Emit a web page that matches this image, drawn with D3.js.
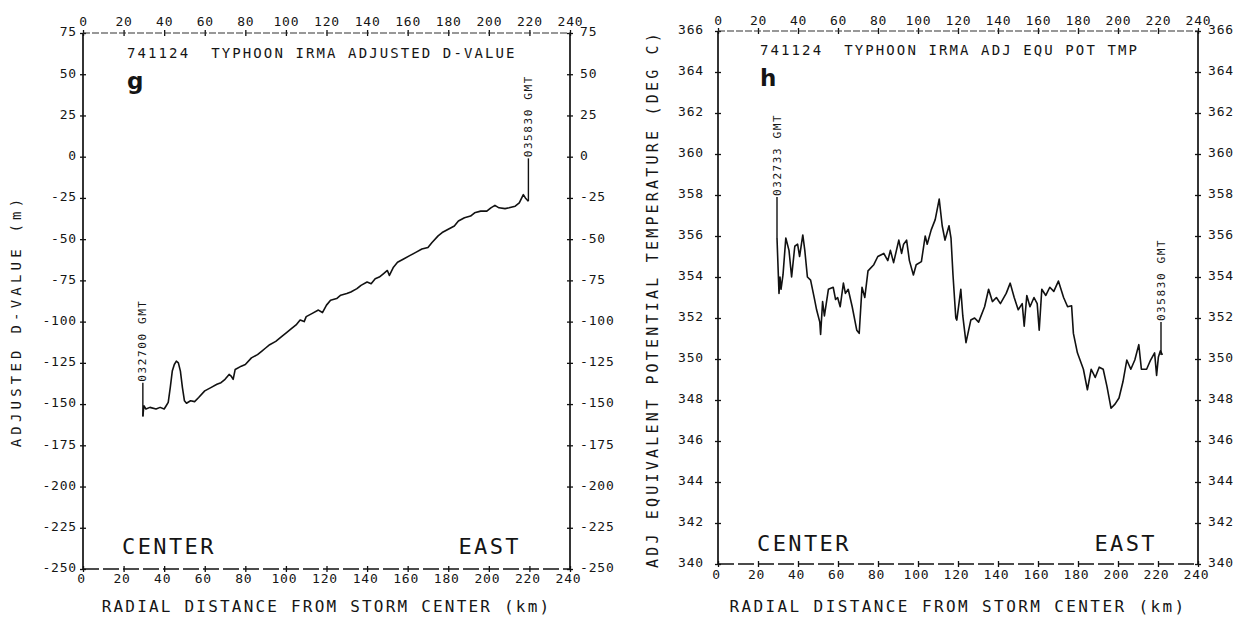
<!DOCTYPE html>
<html><head><meta charset="utf-8">
<script src="https://cdn.jsdelivr.net/npm/d3@7"></script>
<style>
body{margin:0;background:#fff;}
svg{display:block;background:#fff;}
text{font-family:"DejaVu Sans Mono",monospace;fill:#151515;}
</style></head><body>
<svg id="c" width="1233" height="617"></svg>
<script>
// ---------- data ----------
const xTicks = [0,20,40,60,80,100,120,140,160,180,200,220,240];
const dTicks = [75,50,25,0,-25,-50,-75,-100,-125,-150,-175,-200,-225,-250];
const tTicks = [366,364,362,360,358,356,354,352,350,348,346,344,342,340];

// Panel g: adjusted D-value (m) vs radial distance (km)
const dKm  = [29.5,30,31,33,36,38,40,41,42,43,44,45,46,47,48,49,50,51,53,55,57,60,63,66,68,70,72,73,74,75,78,80,83,86,88,90,92,95,98,100,103,105,107,109,110,113,116,118,120,122,125,127,130,132,135,137,140,142,144,146,148,150,151,153,155,158,161,164,167,170,172,175,177,180,183,185,188,191,193,196,199,201,203,205,208,210,213,215,217,218,219.5];
const dVal = [-157.5,-151,-153,-152,-153,-152,-153,-151,-149,-140,-130,-126,-124,-125,-130,-140,-148,-149.5,-148,-148.5,-146,-142,-140,-138,-137,-135,-132,-133,-135,-129,-127,-126,-122,-120,-118,-116,-114,-112,-109,-107,-104,-102,-99,-100,-97,-95,-93,-94.5,-90,-87,-86,-84,-83,-82,-80,-78,-76,-77,-74,-73,-71,-69,-72,-67,-64,-62,-60,-58,-56,-55,-52,-48,-46,-44,-42,-39,-37,-36,-34,-33,-33,-31,-29.5,-31,-31.5,-31,-30,-28,-23,-25,-27];

// Panel h: adjusted equivalent potential temperature vs radial distance (km)
const tKm  = [29.5,30.5,31,31.5,32.5,33.9,35.5,36.8,38.4,39.8,40.8,42.4,43.4,44.7,46.3,48.3,49.3,50.9,51.3,52.3,53.2,55.2,57.6,58.8,59.8,61.1,62.7,63.7,65.1,67.1,69.4,70.6,72,73.4,75,77.9,79.9,82.9,84.9,86.2,87.8,90.4,91.8,92.8,94.3,95.7,97.7,99.1,101.7,103.6,104.6,106.6,108.6,110.6,112.1,113.5,115.5,116.5,117.5,118.9,119.4,121.4,122.4,124,126.4,128.3,130.3,133.3,135.3,137.2,139.2,141.2,144.1,146.1,148.1,150.1,152.1,153.1,154.4,156,158,159.6,160.6,161.9,163.9,165.9,167.9,170.2,172.8,174.8,176.8,177.7,179.7,182.7,184.7,186.6,188.6,190.6,192.6,194.5,196.5,198.5,200.5,202.5,204.4,206.4,208.4,210.4,211.7,214.3,216.3,218.3,219.3,220.2,221.2,222.2];
const tVal = [355.9,353.2,354.0,353.4,354.1,355.9,355.3,354.0,355.5,355.6,355.0,356.05,355.3,354.0,353.85,352.9,352.4,351.8,351.2,352.8,352.1,353.4,353.5,352.9,353.0,352.55,353.7,353.2,353.4,352.55,351.4,351.25,353.5,353.0,354.3,354.6,355.0,355.15,354.8,355.3,354.7,355.8,355.15,355.6,355.8,354.8,354.1,354.6,354.75,356.0,355.6,356.3,356.8,357.8,356.5,355.8,356.5,355.9,354.1,352.0,351.9,353.4,352.1,350.8,351.9,352.0,351.8,352.55,353.4,352.8,353.0,352.7,353.2,353.7,353.0,352.4,352.7,351.6,353.1,352.55,353.0,352.7,351.4,353.4,353.1,353.5,353.3,353.8,353.0,352.55,352.6,351.25,350.3,349.5,348.5,349.5,349.1,349.6,349.5,348.65,347.6,347.8,348.1,348.9,349.95,349.5,349.95,350.7,349.5,349.5,349.95,350.3,349.2,350.1,350.4,350.2];

// time stamps at the start and end of each leg: [text, km, value at trace, value where the label starts]
const dMarks = [["032700 GMT",29.5,-157.5,-137],["035830 GMT",219.5,-27,-1]];
const tMarks = [["032733 GMT",29.5,355.9,357.9],["035830 GMT",221.5,350.2,351.8]];

const titles = ["741124  TYPHOON IRMA ADJUSTED D-VALUE","741124  TYPHOON IRMA ADJ EQU POT TMP"];
const yTitles = ["ADJUSTED D-VALUE (m)","ADJ EQUIVALENT POTENTIAL TEMPERATURE (DEG C)"];
const xTitle = "RADIAL DISTANCE FROM STORM CENTER (km)";
const letters = ["g","h"];

// ---------- drawing ----------
const svg = d3.select("#c");

function panel(o){
  const g = svg.append("g");
  const x = d3.scaleLinear().domain([0,240]).range([o.x0,o.x1]);
  const y = d3.scaleLinear().domain(o.yDom).range([o.y0,o.y1]);
  const fmt = d => String(d);
  const tickFont = sel => sel.selectAll("text").style("font-size","13px").style("letter-spacing","0.8px").attr("fill","#151515");

  // axes (labels + outward ticks)
  const aL = g.append("g").attr("transform",`translate(${o.x0},0)`)
    .call(d3.axisLeft(y).tickValues(o.yTicks).tickFormat(fmt).tickSize(3).tickPadding(o.padL));
  const aR = g.append("g").attr("transform",`translate(${o.x1},0)`)
    .call(d3.axisRight(y).tickValues(o.yTicks).tickFormat(fmt).tickSize(3).tickPadding(o.padR));
  const aT = g.append("g").attr("transform",`translate(0,${o.y0})`)
    .call(d3.axisTop(x).tickValues(xTicks).tickSize(3).tickPadding(o.padT));
  const aB = g.append("g").attr("transform",`translate(0,${o.y1})`)
    .call(d3.axisBottom(x).tickValues(xTicks).tickSize(3).tickPadding(o.padB));
  // inward tick halves
  g.append("g").attr("transform",`translate(${o.x0},0)`).call(d3.axisRight(y).tickValues(o.yTicks).tickFormat("").tickSize(3));
  g.append("g").attr("transform",`translate(${o.x1},0)`).call(d3.axisLeft(y).tickValues(o.yTicks).tickFormat("").tickSize(3));
  g.append("g").attr("transform",`translate(0,${o.y0})`).call(d3.axisBottom(x).tickValues(xTicks).tickFormat("").tickSize(3));
  g.append("g").attr("transform",`translate(0,${o.y1})`).call(d3.axisTop(x).tickValues(xTicks).tickFormat("").tickSize(3));
  g.selectAll(".domain").remove();
  g.selectAll(".tick line").attr("stroke","#111").attr("stroke-width",1.3);
  [aL,aR,aT,aB].forEach(tickFont);
  aB.selectAll("text").attr("dx","-2");
  aL.selectAll("text").attr("dy","0.22em");
  aR.selectAll("text").attr("dy","0.22em");

  // frame
  g.append("line").attr("x1",o.x0).attr("x2",o.x0).attr("y1",o.y0).attr("y2",o.y1).attr("stroke","#111").attr("stroke-width",1.7);
  g.append("line").attr("x1",o.x1).attr("x2",o.x1).attr("y1",o.y0).attr("y2",o.y1).attr("stroke","#111").attr("stroke-width",1.7);
  g.append("line").attr("x1",o.x0).attr("x2",o.x1).attr("y1",o.y0).attr("y2",o.y0).attr("stroke","#333").attr("stroke-width",1.1).attr("stroke-dasharray","7,2");
  g.append("line").attr("x1",o.x0).attr("x2",o.x1).attr("y1",o.y1).attr("y2",o.y1).attr("stroke","#111").attr("stroke-width",1.6).attr("stroke-dasharray","16,4");

  // trace
  const pts = o.km.map((k,i)=>[k,o.val[i]]);
  g.append("path").datum(pts)
    .attr("d",d3.line().x(d=>x(d[0])).y(d=>y(d[1])))
    .attr("fill","none").attr("stroke","#111").attr("stroke-width",1.6).attr("stroke-linejoin","round");

  // time stamp markers
  o.marks.forEach(m=>{
    g.append("line").attr("x1",x(m[1])).attr("x2",x(m[1])).attr("y1",y(m[2])).attr("y2",y(m[3]))
      .attr("stroke","#111").attr("stroke-width",1.4);
    g.append("text").attr("transform",`translate(${x(m[1])},${y(m[3])-1}) rotate(-90)`)
      .attr("dominant-baseline","central").style("font-size","11px").style("letter-spacing","1.6px")
      .style("white-space","pre").text(m[0]);
  });

  // title
  g.append("text").attr("x",o.titleX).attr("y",o.titleY).style("font-size","14px").style("letter-spacing","2.1px")
    .style("white-space","pre").attr("xml:space","preserve").text(o.title);
  // panel letter
  g.append("text").attr("x",o.titleX).attr("y",o.titleY+31).style("font-family","'DejaVu Sans',sans-serif")
    .style("font-weight","bold").style("font-size","23px").attr("fill","#000").text(o.letter);
  // CENTER / EAST
  g.append("text").attr("x",o.cX).attr("y",o.ceY).style("font-size","22px").style("letter-spacing","2.4px").text("CENTER");
  g.append("text").attr("x",o.eX).attr("y",o.ceY).attr("text-anchor","end").style("font-size","22px").style("letter-spacing","2.4px").text("EAST");
  // axis titles
  g.append("text").attr("x",(o.x0+o.x1)/2).attr("y",612).attr("text-anchor","middle")
    .style("font-size","16px").style("letter-spacing",o.xtLs+"px").text(xTitle);
  g.append("text").attr("transform",`translate(${o.ytX},${o.ytY}) rotate(-90)`).attr("text-anchor","middle")
    .attr("dominant-baseline","central").style("font-size",o.ytFs+"px").style("letter-spacing",o.ytLs+"px").text(o.yTitle);
}

panel({x0:83,x1:570,y0:33,y1:569,yDom:[75,-250],yTicks:dTicks,padL:3,padR:7,padT:4,padB:2,
  km:dKm,val:dVal,marks:dMarks,title:titles[0],titleX:127,titleY:58,letter:letters[0],
  cX:122,eX:521,ceY:554,xtLs:2.2,ytX:16,ytY:321,ytFs:14,ytLs:4.2,yTitle:yTitles[0]});

panel({x0:718,x1:1198,y0:31,y1:564,yDom:[366,340],yTicks:tTicks,padL:11,padR:7,padT:3,padB:3,
  km:tKm,val:tVal,marks:tMarks,title:titles[1],titleX:760,titleY:55,letter:letters[1],
  cX:757,eX:1157,ceY:551,xtLs:2.4,ytX:653,ytY:299,ytFs:15,ytLs:3.2,yTitle:yTitles[1]});
</script>
</body></html>
